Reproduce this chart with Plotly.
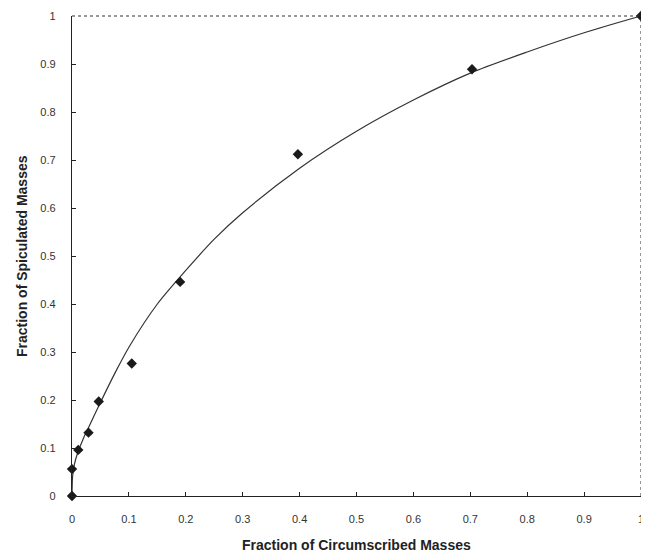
import plotly.graph_objects as go

# Observed data points (diamonds)
obs_x = [0.0, 0.0, 0.011, 0.029, 0.047, 0.105, 0.190, 0.397, 0.703, 1.0]
obs_y = [0.0, 0.056, 0.096, 0.132, 0.197, 0.276, 0.446, 0.712, 0.889, 1.0]

# Fitted curve
fit_x = [0.0, 0.001, 0.004, 0.01, 0.02, 0.03, 0.05, 0.075, 0.1, 0.15, 0.2, 0.25, 0.3, 0.4, 0.5, 0.6, 0.7, 0.8, 0.9, 1.0]
fit_y = [0.0, 0.04, 0.065, 0.09, 0.12, 0.145, 0.195, 0.255, 0.31, 0.40, 0.47, 0.535, 0.59, 0.683, 0.76, 0.825, 0.881, 0.925, 0.965, 1.0]

tick_vals = [0, 0.1, 0.2, 0.3, 0.4, 0.5, 0.6, 0.7, 0.8, 0.9, 1]
tick_text = ["0", "0.1", "0.2", "0.3", "0.4", "0.5", "0.6", "0.7", "0.8", "0.9", "1"]

x_title = "Fraction of Circumscribed Masses"
y_title = "Fraction of Spiculated Masses"

FONT = "Liberation Sans, Arial, sans-serif"

fig = go.Figure()
fig.add_trace(go.Scatter(
    x=fit_x, y=fit_y, mode="lines", line=dict(color="#333333", width=1.2, shape="spline", smoothing=0.8),
    hoverinfo="skip", showlegend=False, cliponaxis=False))
fig.add_trace(go.Scatter(
    x=obs_x, y=obs_y, mode="markers",
    marker=dict(symbol="diamond", size=8, color="#1a1a1a", line=dict(color="#1a1a1a", width=0)),
    showlegend=False, cliponaxis=False))

# dotted top and right frame lines
fig.add_shape(type="line", xref="paper", yref="paper", x0=0, x1=1, y0=1, y1=1,
              line=dict(color="#333333", width=1, dash="dot"))
fig.add_shape(type="line", xref="paper", yref="paper", x0=1, x1=1, y0=0, y1=1,
              line=dict(color="#333333", width=1, dash="dot"))

axis_common = dict(
    range=[0, 1], tickvals=tick_vals, ticktext=tick_text, ticks="inside", ticklen=4,
    tickcolor="#222222", showgrid=False, zeroline=False, showline=True,
    linecolor="#222222", linewidth=1.3, automargin=False,
    tickfont=dict(family=FONT, size=11, color="#333333"),
)
fig.update_xaxes(**axis_common, ticklabelstandoff=13)
fig.update_yaxes(**axis_common, ticklabelstandoff=13)

fig.add_annotation(text=x_title, xref="paper", yref="paper", x=0.5, y=0, yshift=-49,
                   showarrow=False, xanchor="center", yanchor="middle",
                   font=dict(family=FONT, size=14, color="#222222", weight="bold"))
fig.add_annotation(text=y_title, xref="paper", yref="paper", x=0, y=0.5, xshift=-50,
                   showarrow=False, xanchor="center", yanchor="middle", textangle=-90,
                   font=dict(family=FONT, size=14, color="#222222", weight="bold"))

# page body has an 8px margin; size figure so the plot lands where the reference has it
fig.update_layout(
    width=641, height=548,
    margin=dict(l=64, r=8, t=8, b=60, autoexpand=False),
    plot_bgcolor="white", paper_bgcolor="white",
)

fig.write_html("out.html")
